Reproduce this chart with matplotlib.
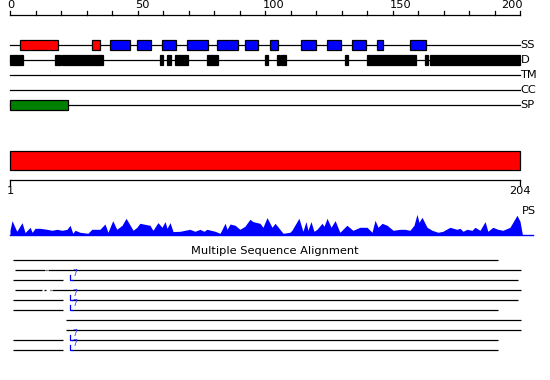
import matplotlib
matplotlib.use("Agg")
import matplotlib.pyplot as plt
from matplotlib.patches import Rectangle
from matplotlib.lines import Line2D

# ---------------- data ----------------
seq_len_top = 200
top_ticks_major = [0, 50, 100, 150, 200]
track_names = ["SS", "D", "TM", "CC", "SP"]

ss_helix = [(4.0, 18.7), (32.3, 35.4)]
ss_strand = [(39.3, 47.2), (49.9, 55.2), (59.7, 65.0), (69.5, 77.5), (81.3, 89.3),
             (92.2, 97.1), (102.0, 105.0), (114.0, 120.0), (124.4, 129.7),
             (134.2, 139.5), (144.0, 146.1), (157.0, 163.0)]
disorder = [(0, 5.0), (17.6, 20.0), (20.5, 36.4), (58.8, 60.0), (61.6, 63.1),
            (64.7, 69.8), (77.3, 81.6), (100.0, 101.2), (104.6, 105.8),
            (106.4, 108.1), (131.4, 132.5), (140.0, 159.2), (162.6, 163.9),
            (164.7, 200.0)]
tm_regions = []
cc_regions = []
sp_regions = [(0, 22.6)]

domain_start, domain_end = 1, 204

ps_pos = [1, 1.8, 3.7, 5.8, 7, 9, 9.8, 11, 12.9, 15.7, 17.7, 19.7, 21.7, 23.7, 24.9,
          26, 26.9, 28.9, 32, 33.6, 36.8, 38.8, 40, 41.9, 43.5, 45.6, 47.2, 50, 51.5,
          52.7, 56.7, 57.9, 59.9, 61.5, 62.7, 63.5, 64.7, 65.9, 68.7, 72.6, 74.6,
          76.6, 78.2, 79.4, 82.6, 84.6, 86.6, 87.4, 88.6, 90.6, 92.5, 94.5, 96.5,
          97.7, 99.3, 100.5, 101.7, 103.3, 105.3, 106.5, 109.7, 112.4, 113.2, 116,
          117.6, 118.8, 119.6, 120.8, 122, 123.2, 125.2, 126, 127.2, 128.8, 130.4,
          132.3, 135.1, 137.5, 140.3, 143.1, 145.1, 146.3, 147.5, 149.1, 151.1,
          153.5, 156.3, 158.2, 160.2, 161.8, 163, 163.8, 165, 167, 169, 171.4,
          173.3, 176.1, 178.9, 180.1, 181.3, 182.9, 184.9, 186.1, 188.1, 190.1,
          191.2, 193.2, 195.2, 197.2, 200, 202.8, 204, 205]
ps_val = [5, 14.6, 4, 12.6, 2.7, 8, 3, 7, 7, 6, 5, 6, 5, 6, 10,
          2, 5, 3, 2, 6, 6, 11.3, 3, 14.6, 6, 10, 17, 5, 8,
          12, 10, 5, 12.7, 8, 13.7, 7, 12.7, 3.7, 4, 6, 4,
          6, 4, 6, 4, 2, 12, 6, 11.3, 10, 6, 9, 16,
          13.7, 12.7, 12, 8, 17.7, 8, 12, 2, 3, 5, 17,
          4, 13.7, 5, 13.7, 4, 6, 12, 9, 17, 8, 14.7,
          3, 10, 5, 8, 8, 3, 15, 8, 12, 10,
          5, 6, 6, 5, 10, 21, 13, 18, 8, 5, 3,
          4, 8, 6, 7, 4, 6, 5, 8, 5, 13.7,
          4, 8, 6, 5, 8, 20, 14, 0]

msa_title = "Multiple Sequence Alignment"
msa_segments = [
    [(1, 195)],
    [(2, 14), (14.4, 14.7), (15.1, 204.3)],
    [(1, 21), (24.4, 203)],
    [(2, 12.9), (13.6, 14.2), (16, 16.4), (16.9, 204.3)],
    [(1, 21), (24.4, 203)],
    [(1, 21), (24.4, 195)],
    [(22.3, 204.3)],
    [(22.3, 204.3)],
    [(1, 21), (24.4, 195)],
    [(1, 21), (24.4, 195)],
]
msa_inserts = [(2, 24.1, "7"), (4, 24.1, "7"), (5, 24.1, "7"), (8, 24.1, "7"), (9, 24.1, "7")]

# ---------------- layout ----------------
W, H = 550, 380
fig = plt.figure(figsize=(5.5, 3.8), dpi=100)
FS = 8.2
LW = 0.9

def fx(px):
    return px / W

bg = fig.add_axes([0, 0, 1, 1])
bg.set_xlim(0, W); bg.set_ylim(H, 0); bg.axis("off")

x0, x1 = 10, 520
top = fig.add_axes([fx(x0), 0, fx(x1 - x0), 1])
top.set_xlim(0, seq_len_top); top.set_ylim(H, 0); top.axis("off")

# ruler
ruler_y = 15.3
top.plot([0, seq_len_top], [ruler_y, ruler_y], color="black", lw=LW, clip_on=False)
for t in range(0, seq_len_top + 1, 10):
    top.plot([t, t], [ruler_y, 11], color="black", lw=LW, clip_on=False)
for t in top_ticks_major:
    if t == seq_len_top:
        top.text(t + 1.2, 10.5, str(t), ha="right", va="bottom", fontsize=FS, clip_on=False)
    else:
        top.text(t - 0.9, 10.5, str(t), ha="left", va="bottom", fontsize=FS, clip_on=False)

track_y = [45, 60, 75, 90, 105]
box_h = 10
tracks = [
    [(ss_helix, "#ff0000"), (ss_strand, "#0000ff")],
    [(disorder, "black")],
    [(tm_regions, "#ffff00")],
    [(cc_regions, "#00ffff")],
    [(sp_regions, "#008000")],
]
for name, y, feats in zip(track_names, track_y, tracks):
    top.plot([0, seq_len_top], [y, y], color="black", lw=LW, clip_on=False, zorder=1)
    for regs, col in feats:
        for s, e in regs:
            top.add_patch(Rectangle((s, y - box_h / 2), e - s, box_h, facecolor=col,
                                    edgecolor="black", lw=LW, zorder=2, clip_on=False))
    bg.text(520.5, y, name, ha="left", va="center", fontsize=FS)

# domain bar
dom = fig.add_axes([fx(x0), 0, fx(x1 - x0), 1])
dom.set_xlim(domain_start, domain_end); dom.set_ylim(H, 0); dom.axis("off")
dom.add_patch(Rectangle((domain_start, 150.7), domain_end - domain_start, 19.6,
                        facecolor="#ff0000", edgecolor="black", lw=LW, clip_on=False))
r2y = 180.3
dom.plot([domain_start, domain_end], [r2y, r2y], color="black", lw=LW, clip_on=False)
for t in (domain_start, domain_end):
    dom.plot([t, t], [r2y, 185], color="black", lw=LW, clip_on=False)
dom.text(domain_start, 186.5, str(domain_start), ha="center", va="top", fontsize=FS)
dom.text(domain_end, 186.5, str(domain_end), ha="center", va="top", fontsize=FS)
bg.text(521.5, 211, "PS", ha="left", va="center", fontsize=FS)

# PS profile
base_y = 235.3
ph = 25
ps = fig.add_axes([fx(x0), 1 - base_y / H, fx(x1 - x0), ph / H])
ps.set_xlim(domain_start, domain_end); ps.set_ylim(0, ph); ps.axis("off")
ps.fill_between(ps_pos, ps_val, 0, color="#0000ff", lw=0, clip_on=False)
bg.add_line(Line2D([10, 533], [base_y, base_y], color="#0000ff", lw=1.0))

# MSA
bg.text(275, 250.5, msa_title, ha="center", va="center", fontsize=FS)
msa = fig.add_axes([fx(x0), 0, fx(x1 - x0), 1])
msa.set_xlim(0, 204); msa.set_ylim(H, 0); msa.axis("off")
row_y0, row_dy = 260, 10
for i, segs in enumerate(msa_segments):
    y = row_y0 + i * row_dy
    for s, e in segs:
        msa.plot([s, e], [y, y], color="black", lw=LW, clip_on=False, solid_capstyle="butt")
for i, xr, lab in msa_inserts:
    y = row_y0 + i * row_dy
    msa.plot([xr, xr, xr + 0.6], [y - 5, y, y], color="#0000ff", lw=LW, clip_on=False)
    msa.text(xr + 0.9, y - 2.3, lab, color="#3333ff", fontsize=5.8, ha="left", va="bottom")

fig.savefig("out.png", dpi=100)
